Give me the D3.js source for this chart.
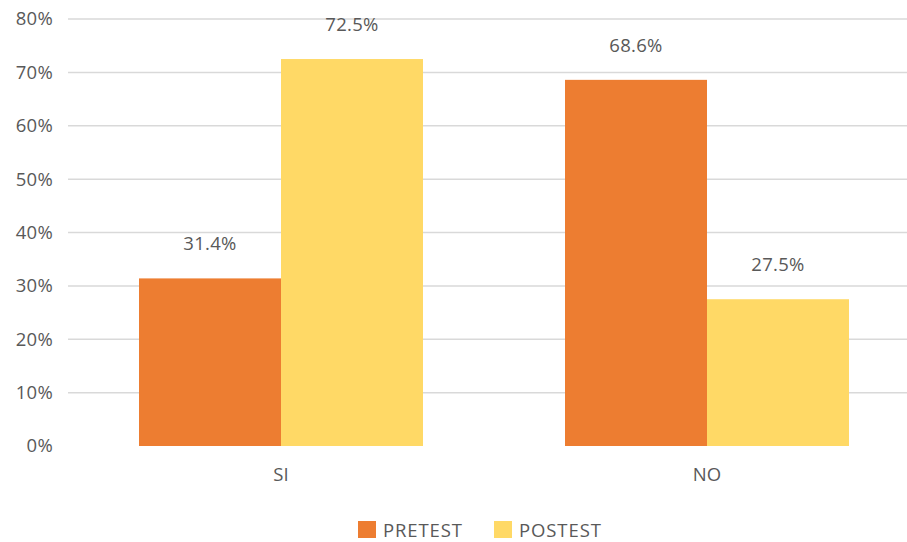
<!DOCTYPE html>
<html>
<head>
<meta charset="utf-8">
<script src="https://cdn.jsdelivr.net/npm/d3@7"></script>
<style>
  body { margin: 0; background: #fff; }
  text { font-family: "Open Sans", sans-serif; fill: #595959; }
</style>
</head>
<body>
<svg id="chart" width="907" height="542"></svg>
<script>
const categories = ['SI', 'NO'];
const series = ['PRETEST', 'POSTEST'];
const pretest = [31.4, 68.6];
const postest = [72.5, 27.5];
const yTicks = [0, 10, 20, 30, 40, 50, 60, 70, 80];
const colors = ['#ED7D31', '#FFD966'];

const svg = d3.select('#chart');
const margin = { left: 68, right: -13, top: 19, bottom: 96 };
const width = 907 - margin.left - margin.right;
const height = 542 - margin.top - margin.bottom;
const fontSize = 18.5;

const g = svg.append('g').attr('transform', `translate(${margin.left},${margin.top})`);

const x = d3.scaleBand().domain(categories).range([0, width])
  .paddingInner(1 / 3).paddingOuter(1 / 6);
const xs = d3.scaleBand().domain(series).range([0, x.bandwidth()]);
const y = d3.scaleLinear().domain([0, 80]).range([height, 0]);

// gridlines (no line at 0)
g.selectAll('.grid')
  .data(yTicks.filter((t) => t > 0))
  .enter().append('line')
  .attr('class', 'grid')
  .attr('x1', 0).attr('x2', width)
  .attr('y1', (d) => y(d)).attr('y2', (d) => y(d))
  .attr('stroke', '#d9d9d9').attr('stroke-width', 1.5);

// y axis labels
const yAxis = g.append('g').call(d3.axisLeft(y).tickValues(yTicks).tickFormat((d) => d + '%').tickSize(0).tickPadding(15));
yAxis.select('.domain').remove();
yAxis.selectAll('text').attr('font-size', fontSize).attr('font-family', null).attr('fill', null)
  .attr('letter-spacing', 0.3);

const rows = categories.map((c, i) => ({ cat: c, values: [pretest[i], postest[i]] }));

const groups = g.selectAll('.cat')
  .data(rows)
  .enter().append('g')
  .attr('transform', (d) => `translate(${x(d.cat)},0)`);

groups.selectAll('rect')
  .data((d) => d.values.map((v, j) => ({ s: series[j], v, j })))
  .enter().append('rect')
  .attr('x', (d) => xs(d.s))
  .attr('width', xs.bandwidth())
  .attr('y', (d) => y(d.v))
  .attr('height', (d) => height - y(d.v))
  .attr('fill', (d) => colors[d.j]);

groups.selectAll('.lbl')
  .data((d) => d.values.map((v, j) => ({ s: series[j], v, j })))
  .enter().append('text')
  .attr('class', 'lbl')
  .attr('x', (d) => xs(d.s) + xs.bandwidth() / 2)
  .attr('y', (d) => y(d.v) - 28)
  .attr('text-anchor', 'middle')
  .attr('font-size', fontSize)
  .attr('letter-spacing', 0.3)
  .text((d) => d.v.toFixed(1) + '%');

// x axis labels
const xAxis = g.append('g').attr('transform', `translate(0,${height})`)
  .call(d3.axisBottom(x).tickSize(0).tickPadding(22));
xAxis.select('.domain').remove();
xAxis.selectAll('text').attr('font-size', fontSize).attr('font-family', null).attr('fill', null);

// legend
const legend = svg.append('g').attr('transform', 'translate(358,521)');
const legendX = [0, 136];
series.forEach((s, i) => {
  const item = legend.append('g').attr('transform', `translate(${legendX[i]},0)`);
  item.append('rect').attr('width', 18).attr('height', 17).attr('fill', colors[i]);
  item.append('text').attr('x', 25).attr('y', 16).attr('font-size', fontSize)
    .attr('letter-spacing', 0.9).text(s);
});
</script>
</body>
</html>
